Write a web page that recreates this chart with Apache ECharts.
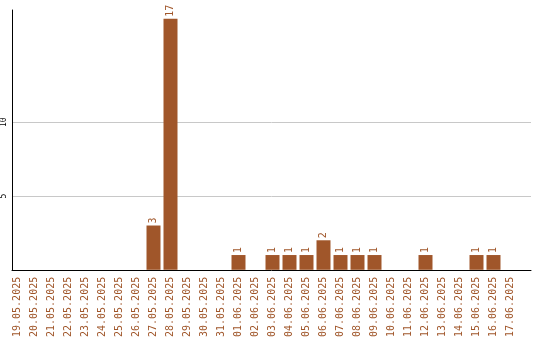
<!DOCTYPE html>
<html><head><meta charset="utf-8">
<script src="https://cdn.jsdelivr.net/npm/echarts@6/dist/echarts.min.js"></script>
<style>html,body{margin:0;padding:0;background:#fff}#c{width:540px;height:340px}</style>
</head><body><div id="c"></div>
<script>
const categories = ['19.05.2025','20.05.2025','21.05.2025','22.05.2025','23.05.2025','24.05.2025','25.05.2025','26.05.2025','27.05.2025','28.05.2025','29.05.2025','30.05.2025','31.05.2025','01.06.2025','02.06.2025','03.06.2025','04.06.2025','05.06.2025','06.06.2025','07.06.2025','08.06.2025','09.06.2025','10.06.2025','11.06.2025','12.06.2025','13.06.2025','14.06.2025','15.06.2025','16.06.2025','17.06.2025'];
const values = [0,0,0,0,0,0,0,0,3,17,0,0,0,1,0,1,1,1,2,1,1,1,0,0,1,0,0,1,1,0];
const yTickLabels = [5,10];
const yMax = 17.6;

const brown = '#a0562a';
const mono = '"DejaVu Sans Mono", monospace';
const chart = echarts.init(document.getElementById('c'));
chart.setOption({
  animation: false,
  grid: [
    {left: 9, width: 510, top: 10, height: 260},
    {left: 10, width: 521, top: 10, height: 260}
  ],
  xAxis: [
    {type: 'category', data: categories, gridIndex: 0,
     axisLine: {show: false}, axisTick: {show: false},
     axisLabel: {rotate: 90, color: brown, fontFamily: mono, fontSize: 10, margin: 7, interval: 0}},
    {type: 'value', gridIndex: 1, min: 0, max: 1,
     axisLine: {show: true, lineStyle: {color: '#000', width: 1}}, axisTick: {show: false},
     axisLabel: {show: false}, splitLine: {show: false}}
  ],
  yAxis: [
    {type: 'value', gridIndex: 0, min: 0, max: yMax, interval: 5,
     axisLine: {show: false}, axisTick: {show: false},
     splitLine: {show: false}, axisLabel: {show: false}},
    {type: 'value', gridIndex: 1, min: 0, max: yMax, interval: 5,
     axisLine: {show: true, lineStyle: {color: '#000', width: 1}}, axisTick: {show: false},
     splitLine: {show: false},
     axisLabel: {rotate: 90, color: '#000', fontFamily: mono, fontSize: 8, margin: 4,
       formatter: v => yTickLabels.includes(v) ? String(v) : ''}}
  ],
  series: [{
    type: 'line', xAxisIndex: 1, yAxisIndex: 1, data: [], silent: true, z: 0,
    markLine: {silent: true, symbol: 'none', label: {show: false}, z: 0,
      lineStyle: {color: '#c8c8c8', type: 'solid', width: 1},
      data: yTickLabels.map(v => ({yAxis: v}))}
  }, {
    type: 'bar', xAxisIndex: 0, yAxisIndex: 0,
    data: values, barWidth: 14,
    itemStyle: {color: brown},
    label: {show: true, position: 'top', rotate: 90, align: 'left', verticalAlign: 'middle',
      distance: 2, color: brown, fontFamily: mono, fontSize: 10,
      formatter: p => p.value ? String(p.value) : ''},
    z: 5
  }]
});
</script></body></html>
